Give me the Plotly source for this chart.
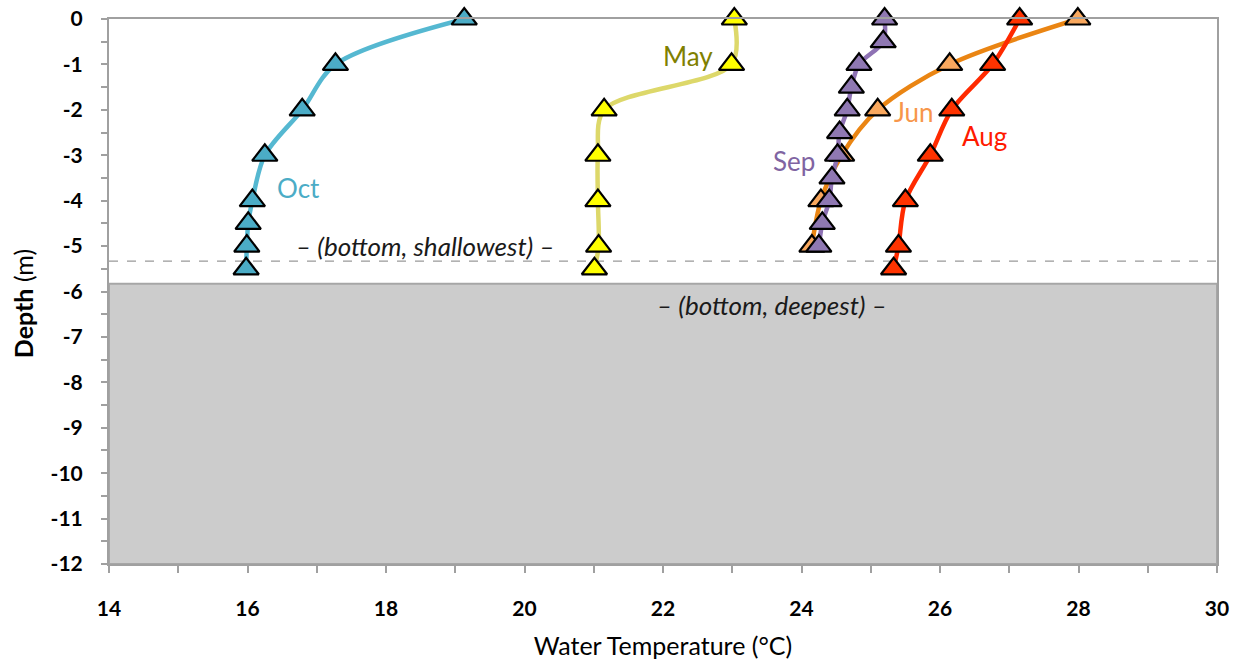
import plotly.graph_objects as go

# Water temperature profiles (°C) by sampling depth (m)
may_depth = [0, -1, -2, -3, -4, -5, -5.5]
may_temp = [23.03, 22.99, 21.15, 21.06, 21.06, 21.07, 21.01]

jun_depth = [0, -1, -2, -3, -4, -5]
jun_temp = [27.99, 26.14, 25.10, 24.58, 24.28, 24.15]

aug_depth = [0, -1, -2, -3, -4, -5, -5.5]
aug_temp = [27.15, 26.76, 26.17, 25.86, 25.50, 25.40, 25.33]

sep_depth = [0, -0.5, -1, -1.5, -2, -2.5, -3, -3.5, -4, -4.5, -5]
sep_temp = [25.20, 25.18, 24.83, 24.72, 24.66, 24.55, 24.52, 24.44, 24.40, 24.30, 24.25]

oct_depth = [0, -1, -2, -3, -4, -4.5, -5, -5.5]
oct_temp = [19.13, 17.27, 16.79, 16.25, 16.07, 16.01, 15.99, 15.98]

bottom_shallowest = -5.33
bottom_deepest = -5.83
x_range = [14, 30]
y_range = [-12, 0]
y_ticks = [0, -1, -2, -3, -4, -5, -6, -7, -8, -9, -10, -11, -12]
y_ticktext = ["0", "-1", "-2", "-3", "-4", "-5", "-6", "-7", "-8", "-9", "-10", "-11", "-12"]

FONT = "Lato, Open Sans, sans-serif"

series = [
    # name, temps, depths, line colour, marker colour, label colour, label position
    ("May", may_temp, may_depth, "#DDD86A", "#FFFF00", "#808000", (22.36, -0.81)),
    ("Jun", jun_temp, jun_depth, "#EA8513", "#F9A85E", "#F7964A", (25.62, -2.05)),
    ("Aug", aug_temp, aug_depth, "#FF2A00", "#FF3300", "#FF1A00", (26.64, -2.58)),
    ("Sep", sep_temp, sep_depth, "#8E72B4", "#8F78B2", "#8064A2", (23.89, -3.12)),
    ("Oct", oct_temp, oct_depth, "#55B8D1", "#4BACC6", "#4BACC6", (16.73, -3.72)),
]

fig = go.Figure()

# lake bed below the deepest bottom
fig.add_shape(type="rect", xref="x", yref="y", x0=x_range[0], x1=x_range[1],
              y0=y_range[0], y1=bottom_deepest, fillcolor="#CCCCCC",
              line=dict(color="#A6A6A6", width=2), layer="below")
fig.add_shape(type="line", xref="x", yref="y", x0=x_range[0], x1=x_range[1],
              y0=bottom_shallowest, y1=bottom_shallowest,
              line=dict(color="#999999", width=1.3, dash="dash"), layer="below")

for name, t, d, lc, mc, tc, pos in series:
    fig.add_trace(go.Scatter(
        x=t, y=d, mode="lines+markers", name=name,
        line=dict(color=lc, width=4.5, shape="spline", smoothing=0.9),
        marker=dict(symbol="triangle-up", size=22, color=mc,
                    line=dict(color="#000000", width=2.2)),
        cliponaxis=False, showlegend=False,
    ))
    fig.add_annotation(x=pos[0], y=pos[1], text=name, showarrow=False,
                       font=dict(family=FONT, size=26, color=tc))

fig.add_annotation(x=18.56, y=-5.0, text="<i>– (bottom, shallowest) –</i>", showarrow=False,
                   font=dict(family=FONT, size=26, color="#1A1A1A"))
fig.add_annotation(x=23.58, y=-6.3, text="<i>– (bottom, deepest) –</i>", showarrow=False,
                   font=dict(family=FONT, size=26, color="#1A1A1A"))

# y-axis title, sitting a little below the plot's mid-height
fig.add_annotation(xref="paper", yref="paper", x=-0.0775, y=0.477,
                   text="<b>Depth</b> (m)", textangle=-90, showarrow=False,
                   xanchor="center", yanchor="middle",
                   font=dict(family=FONT, size=25, color="#000000"))

tick_font = dict(family=FONT, size=21, color="#000000", weight="bold")

fig.update_layout(
    width=1241, height=667,
    margin=dict(l=109, r=24, t=19, b=103, autoexpand=False),
    paper_bgcolor="white", plot_bgcolor="white",
    xaxis=dict(
        range=x_range, dtick=2, tick0=14, showgrid=False, zeroline=False,
        automargin=False,
        showline=True, linecolor="#A0A0A0", linewidth=2, mirror=True,
        ticks="outside", ticklen=7, tickcolor="#A0A0A0", tickwidth=1.5,
        minor=dict(dtick=1, ticks="outside", ticklen=7, tickcolor="#A0A0A0", tickwidth=1.5),
        tickfont=tick_font,
        ticklabelstandoff=18,
        title=dict(text="Water Temperature (°C)", standoff=18,
                   font=dict(family=FONT, size=25, color="#000000")),
    ),
    yaxis=dict(
        range=y_range, tickvals=y_ticks, ticktext=y_ticktext,
        showgrid=False, zeroline=False, automargin=False,
        showline=True, linecolor="#A0A0A0", linewidth=2, mirror=True,
        ticks="outside", ticklen=6, tickcolor="#A0A0A0", tickwidth=1.5,
        minor=dict(dtick=0.5, ticks="outside", ticklen=6, tickcolor="#A0A0A0", tickwidth=1.5),
        tickfont=tick_font,
        ticklabelstandoff=14,
    ),
)

fig.write_html("out.html")
